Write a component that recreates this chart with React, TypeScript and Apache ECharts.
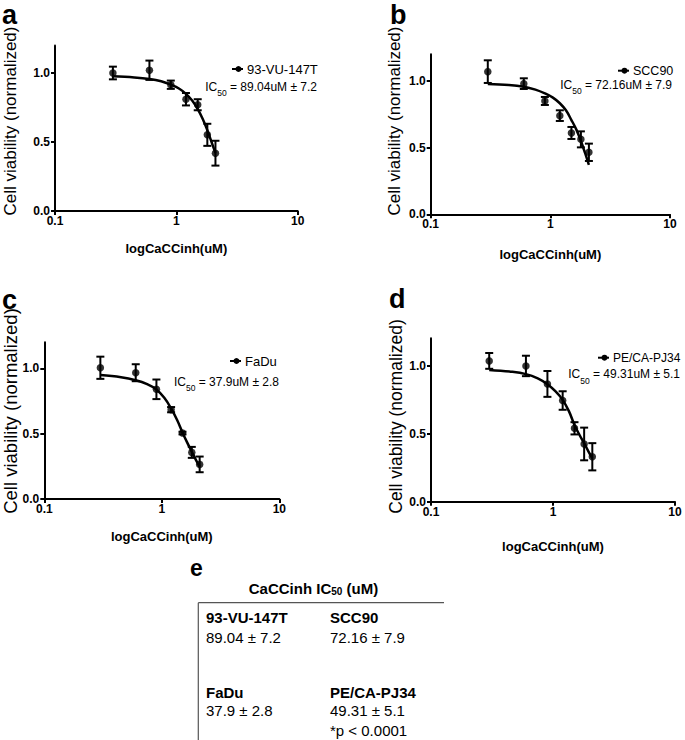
import React, { useEffect, useRef } from "react";
import * as echarts from "echarts";

const FONT = "Liberation Sans, Arial, Helvetica, sans-serif";

// concentrations (x) shared by all panels
const doses = [0.3, 0.6, 0.9, 1.2, 1.5, 1.8, 2.1];
const xTickLabels = ["0.1", "1", "10"];
const yTickValues = [0, 0.5, 1.0];
const yTickLabels = ["0.0", "0.5", "1.0"];

const cellLines = ["93-VU-147T", "SCC90", "FaDu", "PE/CA-PJ34"];
const ic50Text = ["89.04uM ± 7.2", "72.16uM ± 7.9", "37.9uM ± 2.8", "49.31uM ± 5.1"];
const panelLetters = ["a", "b", "c", "d"];
const yTitle = "Cell viability (normalized)";
const xTitle = "logCaCCinh(uM)";

const meanA = [1.0, 1.02, 0.915, 0.81, 0.77, 0.552, 0.419];
const errA = [0.046, 0.07, 0.03, 0.045, 0.04, 0.08, 0.09];
const meanB = [1.07, 0.98, 0.85, 0.74, 0.61, 0.562, 0.465];
const errB = [0.085, 0.04, 0.03, 0.04, 0.045, 0.06, 0.065];
const meanC = [1.005, 0.967, 0.84, 0.684, 0.505, 0.357, 0.265];
const errC = [0.085, 0.065, 0.075, 0.02, 0.01, 0.042, 0.06];
const meanD = [1.034, 0.997, 0.865, 0.743, 0.539, 0.424, 0.33];
const errD = [0.058, 0.075, 0.095, 0.068, 0.045, 0.12, 0.1];

// fitted curves
const curveX = [0.3, 0.45, 0.6, 0.75, 0.9, 1.05, 1.2, 1.35, 1.5, 1.65, 1.8, 1.95, 2.1];
const curveA = [0.976, 0.968, 0.957, 0.94, 0.915, 0.888, 0.849, 0.8, 0.738, 0.667, 0.585, 0.5, 0.42];
const curveB = [0.977, 0.97, 0.957, 0.935, 0.907, 0.875, 0.833, 0.78, 0.707, 0.635, 0.55, 0.46, 0.37];
const curveC = [0.949, 0.933, 0.91, 0.88, 0.839, 0.775, 0.694, 0.605, 0.51, 0.43, 0.362, 0.3, 0.247];
const curveD = [0.968, 0.955, 0.937, 0.906, 0.863, 0.81, 0.748, 0.665, 0.564, 0.49, 0.43, 0.37, 0.319];

// table (panel e)
const tableHeads = ["93-VU-147T", "SCC90", "FaDu", "PE/CA-PJ34"];
const tableVals = ["89.04 ± 7.2", "72.16 ± 7.9", "37.9 ± 2.8", "49.31 ± 5.1"];
const tableNote = "*p < 0.0001";

const means = [meanA, meanB, meanC, meanD];
const errs = [errA, errB, errC, errD];
const curves = [curveA, curveB, curveC, curveD];

// layout
const grids = [
  { left: 55, top: 45.4, width: 242.7, height: 165.6 },
  { left: 430.7, top: 54.3, width: 239.3, height: 160 },
  { left: 44.3, top: 342.3, width: 235, height: 156.7 },
  { left: 431, top: 338.3, width: 244, height: 163.4 },
];
const xNameGap = [30.5, 34, 31, 38.5];
const yTitlePos = [
  { x: 10, y: 121, fs: 17 },
  { x: 394, y: 121, fs: 17 },
  { x: 10, y: 411, fs: 18.5 },
  { x: 396, y: 416.5, fs: 17.5 },
];
const legendPos = [
  { mx1: 232, mx2: 243, ty: 69, tx: 247, fs: 13, ir: 317, iy: 89 },
  { mx1: 618, mx2: 629, ty: 70.7, tx: 633, fs: 12.5, ir: 672, iy: 87.3 },
  { mx1: 230, mx2: 241, ty: 361, tx: 245, fs: 13, ir: 279, iy: 384 },
  { mx1: 598, mx2: 609, ty: 357.7, tx: 613, fs: 12, ir: 680, iy: 376.7 },
];
const letterPos = [
  { x: 2, y: 14.6 },
  { x: 390, y: 14.5 },
  { x: 2, y: 300 },
  { x: 389, y: 299 },
];

export default function App() {
  const ref = useRef<HTMLDivElement>(null);
  useEffect(() => {
    if (!ref.current) return;
    const chart = echarts.init(ref.current, undefined, { renderer: "svg" });

    const xAxes = grids.map((_, gi) => ({
      type: "log",
      logBase: 10,
      min: 0.1,
      max: 10,
      gridIndex: gi,
      name: xTitle,
      nameLocation: "middle",
      nameGap: xNameGap[gi],
      nameTextStyle: { fontFamily: FONT, fontWeight: "bold", fontSize: 13, color: "#000" },
      axisLine: { show: true, lineStyle: { color: "#000", width: 2 } },
      axisTick: { show: true, length: 4, lineStyle: { color: "#000", width: 2 } },
      minorTick: { show: false },
      splitLine: { show: false },
      axisLabel: {
        fontFamily: FONT,
        fontWeight: "bold",
        fontSize: 12,
        color: "#000",
        margin: 4,
        formatter: (v: number) => xTickLabels[Math.round(Math.log10(v)) + 1] ?? "",
      },
    }));
    const yAxes = grids.map((_, gi) => ({
      type: "value",
      min: 0,
      max: 1.2,
      interval: 0.5,
      gridIndex: gi,
      axisLine: { show: true, lineStyle: { color: "#000", width: 2 } },
      axisTick: { show: true, length: 4, customValues: yTickValues, lineStyle: { color: "#000", width: 2 } },
      splitLine: { show: false },
      axisLabel: {
        fontFamily: FONT,
        fontWeight: "bold",
        fontSize: 12,
        color: "#000",
        margin: 5,
        customValues: yTickValues,
        formatter: (v: number) => {
          const k = yTickValues.findIndex((t) => Math.abs(t - v) < 1e-6);
          return k >= 0 ? yTickLabels[k] : "";
        },
      },
    }));

    const series: any[] = [];
    grids.forEach((_, gi) => {
      series.push({
        type: "line",
        name: cellLines[gi] + " fit",
        xAxisIndex: gi,
        yAxisIndex: gi,
        data: curveX.map((x, i) => [x, curves[gi][i]]),
        smooth: 0.4,
        showSymbol: false,
        lineStyle: { color: "#000", width: 2.5 },
        silent: true,
        z: 2,
      });
      series.push({
        type: "custom",
        name: cellLines[gi] + " err",
        xAxisIndex: gi,
        yAxisIndex: gi,
        data: doses.map((d, i) => [d, means[gi][i], errs[gi][i]]),
        encode: { x: 0, y: 1 },
        renderItem: (params: any, api: any) => {
          const x = api.value(0);
          const y = api.value(1);
          const e = api.value(2);
          const t = api.coord([x, y + e]);
          const b = api.coord([x, y - e]);
          const hw = 4;
          const st = { stroke: "#000", lineWidth: 2 };
          return {
            type: "group",
            children: [
              { type: "line", shape: { x1: t[0], y1: t[1], x2: b[0], y2: b[1] }, style: st },
              { type: "line", shape: { x1: t[0] - hw, y1: t[1], x2: t[0] + hw, y2: t[1] }, style: st },
              { type: "line", shape: { x1: b[0] - hw, y1: b[1], x2: b[0] + hw, y2: b[1] }, style: st },
            ],
          };
        },
        z: 3,
      });
      series.push({
        type: "scatter",
        name: cellLines[gi],
        xAxisIndex: gi,
        yAxisIndex: gi,
        data: doses.map((d, i) => [d, means[gi][i]]),
        symbol: "circle",
        symbolSize: 7.5,
        itemStyle: { color: "#000" },
        z: 4,
      });
    });

    const graphics: any[] = [];
    panelLetters.forEach((l, i) => {
      graphics.push({
        type: "text",
        x: letterPos[i].x,
        y: letterPos[i].y,
        style: { text: l, fontFamily: FONT, fontWeight: "bold", fontSize: 27, fill: "#000", textVerticalAlign: "middle" },
      });
    });
    yTitlePos.forEach((p) => {
      graphics.push({
        type: "text",
        x: p.x,
        y: p.y,
        rotation: Math.PI / 2,
        style: { text: yTitle, fontFamily: FONT, fontSize: p.fs, fill: "#000", textAlign: "center", textVerticalAlign: "middle" },
      });
    });
    grids.forEach((_, i) => {
      const p = legendPos[i];
      graphics.push({
        type: "line",
        shape: { x1: p.mx1, y1: p.ty, x2: p.mx2, y2: p.ty },
        style: { stroke: "#000", lineWidth: 2 },
      });
      graphics.push({
        type: "circle",
        shape: { cx: (p.mx1 + p.mx2) / 2 + 1, cy: p.ty, r: 3 },
        style: { fill: "#000" },
      });
      graphics.push({
        type: "text",
        x: p.tx,
        y: p.ty,
        style: { text: cellLines[i], fontFamily: FONT, fontSize: p.fs, fill: "#000", textAlign: "left", textVerticalAlign: "middle" },
      });
      graphics.push({
        type: "text",
        x: p.ir,
        y: p.iy,
        style: {
          text: "{a|IC}{s|50}{a| = " + ic50Text[i] + "}",
          textAlign: "right",
          textVerticalAlign: "middle",
          rich: {
            a: { fontFamily: FONT, fontSize: 12, fill: "#000", lineHeight: 17, verticalAlign: "top" },
            s: { fontFamily: FONT, fontSize: 8.5, fill: "#000", lineHeight: 17, verticalAlign: "bottom" },
          },
        },
      });
    });

    // panel e
    graphics.push({
      type: "text",
      x: 190,
      y: 568,
      style: { text: "e", fontFamily: FONT, fontWeight: "bold", fontSize: 23, fill: "#000", textVerticalAlign: "middle" },
    });
    graphics.push({
      type: "text",
      x: 313.5,
      y: 587,
      style: {
        text: "{a|CaCCinh IC}{s|50}{a| (uM)}",
        textAlign: "center",
        textVerticalAlign: "middle",
        rich: {
          a: { fontFamily: FONT, fontWeight: "bold", fontSize: 15, fill: "#000", lineHeight: 18, verticalAlign: "bottom" },
          s: { fontFamily: FONT, fontWeight: "bold", fontSize: 10, fill: "#000", lineHeight: 18, verticalAlign: "bottom" },
        },
      },
    });
    graphics.push({
      type: "line",
      shape: { x1: 198.3, y1: 602.7, x2: 444, y2: 602.7 },
      style: { stroke: "#555", lineWidth: 1.2 },
    });
    graphics.push({
      type: "line",
      shape: { x1: 198.3, y1: 602.7, x2: 198.3, y2: 740 },
      style: { stroke: "#555", lineWidth: 1.2 },
    });
    const colX = [206, 330];
    const headY = [617.3, 692.3];
    const valY = [637.3, 710];
    tableHeads.forEach((h, i) => {
      const cx = colX[i % 2];
      const r = Math.floor(i / 2);
      graphics.push({
        type: "text",
        x: cx,
        y: headY[r],
        style: { text: h, fontFamily: FONT, fontWeight: "bold", fontSize: 15, fill: "#000", textVerticalAlign: "middle" },
      });
      graphics.push({
        type: "text",
        x: cx,
        y: valY[r],
        style: { text: tableVals[i], fontFamily: FONT, fontSize: 15, fill: "#000", textVerticalAlign: "middle" },
      });
    });
    graphics.push({
      type: "text",
      x: 330,
      y: 730,
      style: { text: tableNote, fontFamily: FONT, fontSize: 15, fill: "#000", textVerticalAlign: "middle" },
    });

    chart.setOption({
      animation: false,
      backgroundColor: "#fff",
      grid: grids.map((g) => ({ ...g, containLabel: false })),
      xAxis: xAxes,
      yAxis: yAxes,
      series,
      graphic: graphics,
    });
    return () => chart.dispose();
  }, []);
  return (
    <div
      ref={ref}
      style={{ position: "fixed", left: 0, top: 0, width: 685, height: 740, background: "#fff" }}
    />
  );
}
